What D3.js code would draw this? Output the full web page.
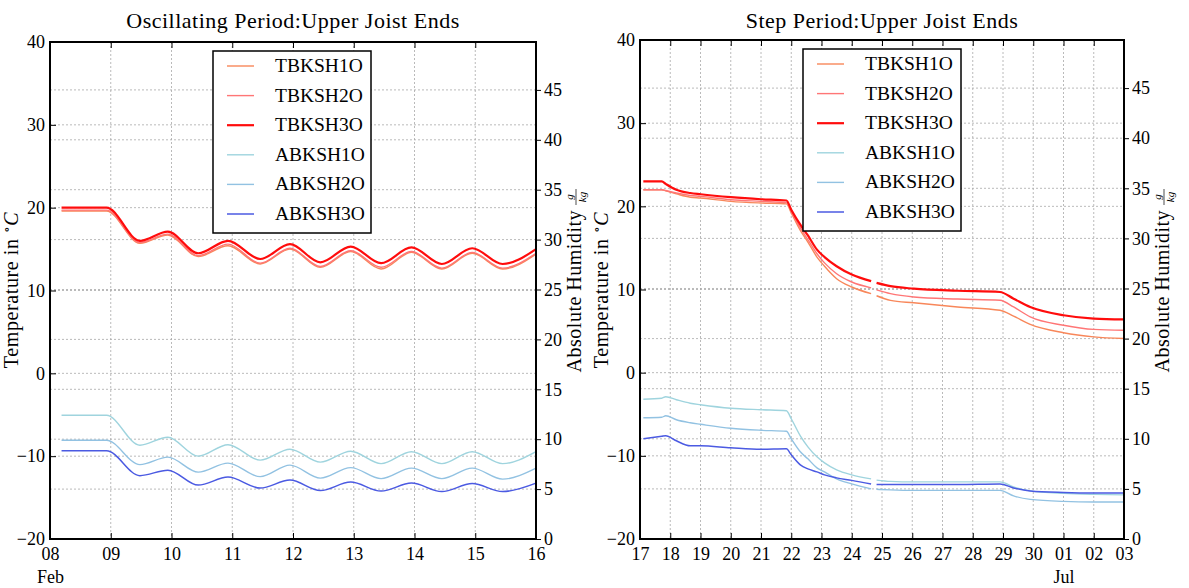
<!DOCTYPE html>
<html>
<head>
<meta charset="utf-8">
<script src="https://cdn.jsdelivr.net/npm/d3@7"></script>
<style>
  body { margin: 0; background: #fff; }
  svg { font-family: "Liberation Serif", "DejaVu Serif", serif; }
  .grid line { stroke: #a8a8a8; stroke-width: 0.8; stroke-dasharray: 2,2; }
  .tick line { stroke: #000; stroke-width: 1; }
</style>
</head>
<body>
<svg id="chart"></svg>
<script>
const seriesNames = ["TBKSH1O", "TBKSH2O", "TBKSH3O", "ABKSH1O", "ABKSH2O", "ABKSH3O"];
const tempTicks = [-20, -10, 0, 10, 20, 30, 40];
const humTicks = [0, 5, 10, 15, 20, 25, 30, 35, 40, 45];

// oscillating period, days after Feb 08
const oscStart = "2014-02-08";
const oscEnd = "2014-02-16";
const oscMonthTicks = ["2014-02-08"];
const oscDays = [0.19, 0.93, 1.48, 1.94, 2.44, 2.93, 3.46, 3.95, 4.45, 4.95, 5.45, 5.95, 6.45, 6.95, 7.45, 8.0];
const oscTBKSH1O = [19.6, 19.6, 15.7, 16.7, 14.1, 15.4, 13.2, 15.0, 12.8, 14.7, 12.6, 14.6, 12.6, 14.5, 12.6, 14.4];
const oscTBKSH2O = [19.7, 19.7, 15.8, 16.8, 14.2, 15.6, 13.3, 15.1, 12.9, 14.8, 12.8, 14.7, 12.7, 14.6, 12.7, 14.5];
const oscTBKSH3O = [20.0, 20.0, 16.0, 17.1, 14.5, 16.0, 13.8, 15.6, 13.4, 15.3, 13.3, 15.2, 13.2, 15.1, 13.2, 15.0];
const oscABKSH1O = [12.4, 12.4, 9.4, 10.2, 8.3, 9.45, 7.9, 9.0, 7.7, 8.8, 7.55, 8.75, 7.55, 8.75, 7.55, 8.75];
const oscABKSH2O = [9.9, 9.9, 7.45, 8.2, 6.7, 7.6, 6.25, 7.4, 6.1, 7.15, 6.05, 7.1, 6.05, 7.1, 6.0, 7.1];
const oscABKSH3O = [8.85, 8.85, 6.35, 6.9, 5.4, 6.2, 5.1, 5.9, 4.85, 5.7, 4.8, 5.6, 4.75, 5.55, 4.75, 5.6];

// step period, days after Jun 17 (null = gap in the record)
const stepStart = "2014-06-17";
const stepEnd = "2014-07-03";
const stepMonthTicks = ["2014-07-01"];
const stepDays = [0.11, 0.72, 0.85, 1.2, 1.66, 2.0, 3.0, 4.0, 4.84, 5.0, 5.3, 5.55, 5.85, 6.1, 6.5, 7.0, 7.64, 7.72, 7.82, 8.28, 9.05, 10.5, 11.9, 12.35, 12.9, 14.0, 15.0, 16.0];
const stepTBKSH1O = [22.0, 22.0, 21.85, 21.5, 21.1, 21.0, 20.6, 20.4, 20.3, 19.2, 17.1, 15.7, 13.9, 12.8, 11.3, 10.3, 9.5, null, 9.25, 8.7, 8.4, 7.9, 7.5, 6.8, 5.8, 4.8, 4.3, 4.1];
const stepTBKSH2O = [22.0, 22.0, 21.9, 21.6, 21.3, 21.2, 20.8, 20.6, 20.45, 19.4, 17.4, 16.0, 14.3, 13.2, 11.9, 10.9, 10.2, null, 9.95, 9.5, 9.1, 8.85, 8.7, 7.9, 6.7, 5.7, 5.2, 5.1];
const stepTBKSH3O = [23.0, 23.0, 22.7, 22.0, 21.6, 21.45, 21.1, 20.85, 20.7, 19.6, 17.8, 16.5, 14.8, 13.9, 12.8, 11.8, 11.0, null, 10.8, 10.4, 10.1, 9.85, 9.7, 8.9, 7.9, 6.9, 6.5, 6.4];
const stepABKSH1O = [13.95, 14.05, 14.2, 13.9, 13.55, 13.4, 13.05, 12.9, 12.8, 12.0, 10.3, 9.2, 8.2, 7.6, 6.9, 6.4, 6.0, null, 5.88, 5.75, 5.7, 5.7, 5.7, 5.2, 4.8, 4.55, 4.45, 4.4];
const stepABKSH2O = [12.1, 12.15, 12.3, 11.9, 11.6, 11.45, 11.05, 10.85, 10.75, 10.0, 8.7, 8.0, 7.1, 6.7, 6.0, 5.5, 5.0, null, 4.96, 4.9, 4.85, 4.85, 4.85, 4.3, 3.95, 3.75, 3.7, 3.7];
const stepABKSH3O = [10.0, 10.25, 10.3, 9.8, 9.3, 9.3, 9.1, 8.95, 9.0, 8.4, 7.4, 7.0, 6.7, 6.4, 6.1, 5.85, 5.48, null, 5.45, 5.45, 5.45, 5.45, 5.5, 5.1, 4.8, 4.65, 4.6, 4.6];

const colors = {
  TBKSH1O: "#f8875a", TBKSH2O: "#ff7676", TBKSH3O: "#ff0c0c",
  ABKSH1O: "#9fd4de", ABKSH2O: "#92c2e2", ABKSH3O: "#4b5ae2"
};
const widths = { TBKSH1O: 1.4, TBKSH2O: 1.4, TBKSH3O: 2.2, ABKSH1O: 1.4, ABKSH2O: 1.4, ABKSH3O: 1.5 };

const serif = "Liberation Serif, DejaVu Serif, serif";
const parseDate = d3.timeParse("%Y-%m-%d");
const svg = d3.select("#chart").attr("width", 1189).attr("height", 588);

function styleAxis(sel) {
  sel.attr("font-family", serif).attr("font-size", 18);
  sel.selectAll(".tick text").attr("fill", "#000");
}

function drawPanel(p) {
  const start = parseDate(p.start);
  const x = d3.scaleTime().domain([start, parseDate(p.end)]).range([p.left, p.right]);
  const yT = d3.scaleLinear().domain([-20, 40]).range([p.bottom, p.top]);
  const yH = d3.scaleLinear().domain([0, 49.8]).range([p.bottom, p.top]);
  const dayTicks = x.ticks(d3.timeDay.every(1));
  const monthDates = p.monthTicks.map((s) => +parseDate(s));

  const g = svg.append("g");

  // grid
  const grid = g.append("g").attr("class", "grid");
  grid.selectAll(".vx").data(dayTicks).enter().append("line")
    .attr("x1", (d) => x(d)).attr("x2", (d) => x(d))
    .attr("y1", p.top).attr("y2", p.bottom);
  grid.selectAll(".ht").data(tempTicks).enter().append("line")
    .attr("x1", p.left).attr("x2", p.right)
    .attr("y1", (d) => yT(d)).attr("y2", (d) => yT(d));
  grid.selectAll(".hh").data(humTicks).enter().append("line")
    .attr("x1", p.left).attr("x2", p.right)
    .attr("y1", (d) => yH(d)).attr("y2", (d) => yH(d));

  // lines
  seriesNames.forEach((name) => {
    const vals = p.values[name];
    const y = name[0] === "T" ? yT : yH;
    const pts = p.days.map((t, i) => ({ t: new Date(start.getTime() + t * 864e5), v: vals[i] }));
    const line = d3.line()
      .defined((d) => d.v != null)
      .x((d) => x(d.t))
      .y((d) => y(d.v))
      .curve(d3.curveMonotoneX);
    g.append("path").datum(pts)
      .attr("fill", "none")
      .attr("stroke", colors[name])
      .attr("stroke-width", widths[name])
      .attr("d", line);
  });

  // axes
  const fmtNum = (d) => (d < 0 ? "\u2212" + Math.abs(d) : d);
  const xAxis = g.append("g")
    .attr("transform", `translate(0, ${p.bottom})`)
    .call(d3.axisBottom(x).tickValues(dayTicks).tickFormat(d3.timeFormat("%d")).tickSizeInner(-6).tickSizeOuter(0).tickPadding(8))
    .call(styleAxis);
  xAxis.selectAll(".tick text")
    .filter((d) => monthDates.includes(+d))
    .append("tspan")
    .attr("x", 0).attr("dy", "1.3em")
    .text((d) => d3.timeFormat("%b")(d));
  g.append("g")
    .attr("transform", `translate(0, ${p.top})`)
    .call(d3.axisTop(x).tickValues(dayTicks).tickFormat("").tickSizeInner(-6).tickSizeOuter(0));
  g.append("g")
    .attr("transform", `translate(${p.left}, 0)`)
    .call(d3.axisLeft(yT).tickValues(tempTicks).tickFormat(fmtNum).tickSizeInner(-6).tickSizeOuter(0).tickPadding(5))
    .call(styleAxis);
  g.append("g")
    .attr("transform", `translate(${p.right}, 0)`)
    .call(d3.axisRight(yH).tickValues(humTicks).tickSizeInner(5).tickSizeOuter(0).tickPadding(3))
    .call(styleAxis);
  g.selectAll(".domain").remove();

  g.append("rect")
    .attr("x", p.left).attr("y", p.top)
    .attr("width", p.right - p.left).attr("height", p.bottom - p.top)
    .attr("fill", "none").attr("stroke", "#000").attr("stroke-width", 2);

  // title
  g.append("text")
    .attr("x", (p.left + p.right) / 2).attr("y", 28)
    .attr("text-anchor", "middle").attr("font-size", 22).attr("letter-spacing", 0.5)
    .text(p.title);

  // left label
  const tl = g.append("text")
    .attr("transform", `translate(${p.left - 32}, 290) rotate(-90)`)
    .attr("text-anchor", "middle").attr("font-size", 20).attr("letter-spacing", 0.6);
  tl.append("tspan").text("Temperature in ");
  tl.append("tspan").attr("dy", -7).attr("font-size", 13).text("\u2218");
  tl.append("tspan").attr("dy", 7).attr("font-style", "italic").text("C");

  // right label
  const hl = g.append("g").attr("transform", `translate(${p.right + 45}, 290) rotate(-90)`);
  hl.append("text").attr("x", 80).attr("y", 0).attr("text-anchor", "end")
    .attr("font-size", 20).attr("letter-spacing", 0.5).text("Absolute Humidity");
  hl.append("text").attr("x", 93).attr("y", -8).attr("text-anchor", "middle").attr("font-size", 11).attr("font-style", "italic").text("g");
  hl.append("line").attr("x1", 85).attr("x2", 101).attr("y1", -5).attr("y2", -5).attr("stroke", "#000").attr("stroke-width", 0.7);
  hl.append("text").attr("x", 93).attr("y", 5).attr("text-anchor", "middle").attr("font-size", 11).attr("font-style", "italic").text("kg");

  // legend
  const lg = g.append("g").attr("transform", `translate(${p.legendX}, ${p.legendY})`);
  lg.append("rect").attr("width", 158).attr("height", 182)
    .attr("fill", "#fff").attr("stroke", "#000").attr("stroke-width", 1.5);
  seriesNames.forEach((name, i) => {
    const yy = 15 + i * 29.6;
    lg.append("line").attr("x1", 14).attr("x2", 41).attr("y1", yy).attr("y2", yy)
      .attr("stroke", colors[name]).attr("stroke-width", widths[name]);
    lg.append("text").attr("x", 62).attr("y", yy + 6).attr("font-size", 19.5).text(name);
  });
}

drawPanel({
  title: "Oscillating Period:Upper Joist Ends",
  start: oscStart, end: oscEnd, monthTicks: oscMonthTicks, days: oscDays,
  values: { TBKSH1O: oscTBKSH1O, TBKSH2O: oscTBKSH2O, TBKSH3O: oscTBKSH3O,
            ABKSH1O: oscABKSH1O, ABKSH2O: oscABKSH2O, ABKSH3O: oscABKSH3O },
  left: 50, right: 536, top: 42, bottom: 539, legendX: 213, legendY: 51
});

drawPanel({
  title: "Step Period:Upper Joist Ends",
  start: stepStart, end: stepEnd, monthTicks: stepMonthTicks, days: stepDays,
  values: { TBKSH1O: stepTBKSH1O, TBKSH2O: stepTBKSH2O, TBKSH3O: stepTBKSH3O,
            ABKSH1O: stepABKSH1O, ABKSH2O: stepABKSH2O, ABKSH3O: stepABKSH3O },
  left: 640, right: 1124, top: 40, bottom: 539, legendX: 803, legendY: 49
});
</script>
</body>
</html>
